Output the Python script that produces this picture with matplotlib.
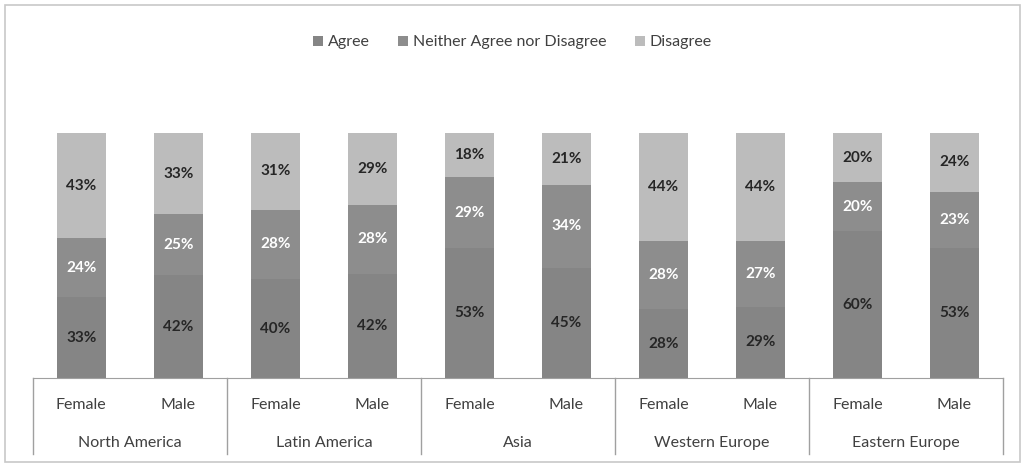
import numpy as np
import matplotlib.pyplot as plt
from matplotlib.patches import Rectangle

plt.rcParams['font.family'] = ['Lato', 'DejaVu Sans']

# Data
regions = ['North America', 'Latin America', 'Asia', 'Western Europe', 'Eastern Europe']
genders = ['Female', 'Male']
agree = [33, 42, 40, 42, 53, 45, 28, 29, 60, 53]
neither = [24, 25, 28, 28, 29, 34, 28, 27, 20, 23]
disagree = [43, 33, 31, 29, 18, 21, 44, 44, 20, 24]

series = [('Agree', agree, '#858585', '#262626'),
          ('Neither Agree nor Disagree', neither, '#8d8d8d', 'white'),
          ('Disagree', disagree, '#bcbcbc', '#262626')]

a = np.array(agree, float)
n = np.array(neither, float)
d = np.array(disagree, float)
tot = a + n + d

fig = plt.figure(figsize=(10.25, 4.67), dpi=100)
fig.patches.append(Rectangle((0.005, 0.01), 0.99, 0.98, transform=fig.transFigure,
                             fill=False, edgecolor='#c8c8c8', lw=1.2))
ax = fig.add_axes([0.032, 0.1906, 0.9465, 0.5244])

x = np.arange(len(agree))
bottom = np.zeros(len(agree))
for name, vals, color, tcol in series:
    h = np.array(vals, float) / tot
    ax.bar(x, h, 0.5, bottom=bottom, color=color, label=name)
    for xi, b, hi, v in zip(x, bottom, h, vals):
        ax.text(xi, b + hi / 2, f'{v}%', ha='center', va='center',
                color=tcol, fontsize=11, fontweight='bold')
    bottom += h

ax.set_xlim(-0.5, len(agree) - 0.5)
ax.set_ylim(0, 1)
ax.set_yticks([])
ax.set_xticks([])
for s in ['top', 'left', 'right']:
    ax.spines[s].set_visible(False)
ax.spines['bottom'].set_color('#a0a0a0')

# Two-level category axis
trans = ax.get_xaxis_transform()
for g in range(len(regions) + 1):
    xs = g * 2 - 0.5
    ax.plot([xs, xs], [0, -0.31], color='#a0a0a0', lw=1, transform=trans, clip_on=False)
for i in range(len(agree)):
    ax.text(i, -0.11, genders[i % 2], ha='center', va='center', fontsize=11.5,
            color='#404040', transform=trans)
for g, r in enumerate(regions):
    ax.text(g * 2 + 0.5, -0.265, r, ha='center', va='center', fontsize=11.5,
            color='#404040', transform=trans)

fig.legend(loc='upper center', bbox_to_anchor=(0.5, 0.955), ncol=3, frameon=False,
           fontsize=11.5, handlelength=0.6, handleheight=0.6, handletextpad=0.3,
           columnspacing=1.8, labelcolor='#404040')

plt.savefig('out.png', dpi=100)
